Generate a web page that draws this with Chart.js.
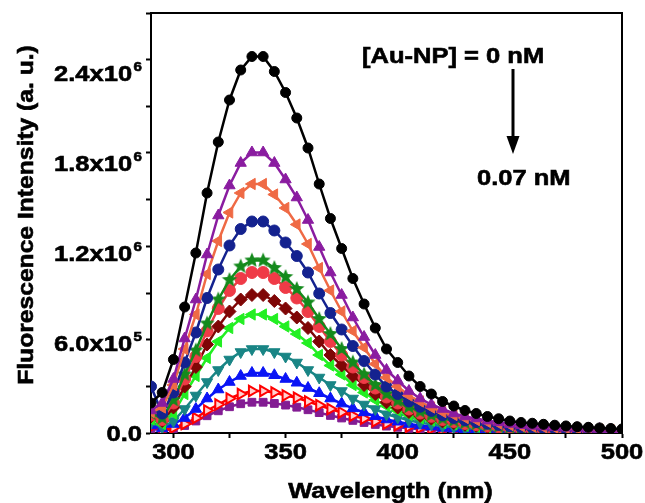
<!DOCTYPE html>
<html>
<head>
<meta charset="utf-8">
<script src="https://cdn.jsdelivr.net/npm/chart.js@4.4.1/dist/chart.umd.min.js"></script>
<style>
  html, body { margin: 0; padding: 0; background: #fff; }
</style>
</head>
<body>
<canvas id="fluoChart" width="645" height="503"></canvas>
<script>
// emission spectra, intensity in units of 10^6 (a. u.)
const wavelength = [290, 295, 300, 305, 310, 315, 320, 325, 330, 335, 340, 345, 350, 355, 360, 365, 370, 375, 380, 385, 390, 395,
    400, 405, 410, 415, 420, 425, 430, 435, 440, 445, 450, 455, 460, 465, 470, 475, 480, 485, 490, 495, 500];

const au0 = [0.20, 0.27, 0.49, 0.84, 1.20, 1.60, 1.94, 2.22, 2.42, 2.51, 2.51, 2.41, 2.27, 2.10, 1.90, 1.66, 1.43, 1.23, 1.03, 0.86, 0.70, 0.56,
    0.47, 0.38, 0.31, 0.26, 0.21, 0.18, 0.15, 0.13, 0.11, 0.095, 0.08, 0.07, 0.065, 0.058, 0.052, 0.047, 0.042, 0.038, 0.034, 0.030, 0.027];
const au1 = [0.15, 0.20, 0.36, 0.63, 0.89, 1.19, 1.45, 1.65, 1.80, 1.87, 1.87, 1.80, 1.69, 1.57, 1.42, 1.24, 1.07, 0.92, 0.77, 0.64, 0.52, 0.42,
    0.35, 0.28, 0.23, 0.19, 0.16, 0.13, 0.11, 0.097, 0.082, 0.071, 0.060, 0.052, 0.047, 0.043, 0.039, 0.035, 0.032, 0.028, 0.026, 0.022, 0.020];
const au2 = [0.14, 0.17, 0.32, 0.56, 0.79, 1.06, 1.28, 1.47, 1.60, 1.66, 1.66, 1.59, 1.50, 1.39, 1.26, 1.10, 0.95, 0.81, 0.68, 0.57, 0.46, 0.37,
    0.31, 0.25, 0.21, 0.17, 0.14, 0.12, 0.10, 0.086, 0.073, 0.063, 0.053, 0.046, 0.043, 0.038, 0.035, 0.032, 0.028, 0.025, 0.023, 0.020, 0.018];
const au3 = [0.31, 0.13, 0.27, 0.47, 0.67, 0.90, 1.09, 1.25, 1.36, 1.41, 1.41, 1.35, 1.27, 1.18, 1.07, 0.93, 0.80, 0.69, 0.58, 0.48, 0.39, 0.31,
    0.26, 0.21, 0.175, 0.147, 0.118, 0.10, 0.085, 0.073, 0.062, 0.054, 0.045, 0.039, 0.037, 0.032, 0.030, 0.027, 0.024, 0.021, 0.020, 0.017, 0.015];
const au4 = [0.13, 0.10, 0.22, 0.39, 0.55, 0.73, 0.89, 1.02, 1.11, 1.15, 1.15, 1.10, 1.04, 0.96, 0.87, 0.76, 0.66, 0.56, 0.47, 0.39, 0.32, 0.26,
    0.215, 0.174, 0.143, 0.12, 0.097, 0.083, 0.069, 0.060, 0.051, 0.044, 0.037, 0.032, 0.030, 0.026, 0.024, 0.022, 0.020, 0.017, 0.016, 0.014, 0.013];
const au5 = [0.12, 0.09, 0.20, 0.36, 0.51, 0.68, 0.83, 0.95, 1.03, 1.07, 1.07, 1.03, 0.97, 0.90, 0.81, 0.71, 0.61, 0.52, 0.44, 0.37, 0.30, 0.24,
    0.20, 0.16, 0.133, 0.111, 0.090, 0.077, 0.064, 0.056, 0.047, 0.041, 0.034, 0.030, 0.028, 0.025, 0.022, 0.020, 0.018, 0.016, 0.015, 0.013, 0.012];
const au6 = [0.11, 0.08, 0.17, 0.31, 0.44, 0.59, 0.71, 0.81, 0.89, 0.92, 0.92, 0.88, 0.83, 0.77, 0.70, 0.61, 0.52, 0.45, 0.38, 0.32, 0.26, 0.205,
    0.17, 0.14, 0.114, 0.096, 0.077, 0.066, 0.055, 0.048, 0.040, 0.035, 0.029, 0.026, 0.024, 0.021, 0.019, 0.017, 0.016, 0.014, 0.013, 0.011, 0.010];
const au7 = [0.09, 0.06, 0.13, 0.26, 0.38, 0.50, 0.61, 0.70, 0.76, 0.79, 0.79, 0.76, 0.71, 0.66, 0.60, 0.52, 0.45, 0.39, 0.32, 0.27, 0.22, 0.18,
    0.148, 0.12, 0.098, 0.082, 0.066, 0.057, 0.047, 0.041, 0.035, 0.030, 0.025, 0.022, 0.021, 0.018, 0.017, 0.015, 0.013, 0.012, 0.011, 0.010, 0.009];
const au8 = [0.07, 0.04, 0.08, 0.16, 0.25, 0.34, 0.42, 0.49, 0.54, 0.56, 0.56, 0.54, 0.51, 0.47, 0.42, 0.37, 0.32, 0.28, 0.23, 0.19, 0.16, 0.125,
    0.105, 0.085, 0.069, 0.058, 0.047, 0.040, 0.034, 0.029, 0.025, 0.021, 0.018, 0.016, 0.015, 0.013, 0.012, 0.011, 0.010, 0.008, 0.008, 0.007, 0.006];
const au9 = [0.05, 0.03, 0.06, 0.10, 0.16, 0.23, 0.29, 0.34, 0.38, 0.40, 0.40, 0.385, 0.36, 0.335, 0.30, 0.265, 0.23, 0.196, 0.164, 0.137, 0.112, 0.090,
    0.075, 0.060, 0.050, 0.042, 0.034, 0.029, 0.024, 0.021, 0.018, 0.015, 0.013, 0.011, 0.010, 0.009, 0.008, 0.008, 0.007, 0.006, 0.006, 0.005, 0.004];
const au10 = [0.04, 0.02, 0.035, 0.06, 0.10, 0.15, 0.19, 0.23, 0.26, 0.28, 0.28, 0.27, 0.25, 0.235, 0.21, 0.185, 0.16, 0.137, 0.115, 0.096, 0.078, 0.063,
    0.052, 0.042, 0.035, 0.029, 0.024, 0.020, 0.017, 0.015, 0.012, 0.011, 0.009, 0.008, 0.007, 0.006, 0.006, 0.005, 0.005, 0.004, 0.004, 0.003, 0.003];
const au11 = [0.03, 0.015, 0.03, 0.05, 0.08, 0.115, 0.148, 0.175, 0.195, 0.205, 0.205, 0.197, 0.186, 0.172, 0.155, 0.136, 0.117, 0.10, 0.084, 0.070, 0.057, 0.046,
    0.038, 0.031, 0.025, 0.021, 0.017, 0.015, 0.012, 0.011, 0.009, 0.008, 0.007, 0.006, 0.005, 0.005, 0.004, 0.004, 0.003, 0.003, 0.003, 0.002, 0.002];

const xTicks = [300, 350, 400, 450, 500];
const yTicks = [0, 6e5, 1.2e6, 1.8e6, 2.4e6];
const yTickText = [["0.0", ""], ["6.0x10", "5"], ["1.2x10", "6"], ["1.8x10", "6"], ["2.4x10", "6"]];

const FONT = "'Liberation Sans', Arial, sans-serif";
const WIDEN = 1.16;

// filled five-point star used as a marker
function starMarker(color, r) {
    const c = document.createElement("canvas");
    c.width = c.height = 2 * r + 2;
    const g = c.getContext("2d");
    g.translate(r + 1, r + 1);
    g.beginPath();
    for (let i = 0; i < 10; i++) {
        const rad = i % 2 === 0 ? r : r * 0.45;
        const a = -Math.PI / 2 + i * Math.PI / 5;
        g.lineTo(rad * Math.cos(a), rad * Math.sin(a));
    }
    g.closePath();
    g.fillStyle = color;
    g.fill();
    return c;
}

function series(vals, color, style, radius, opts) {
    return Object.assign({
        data: wavelength.map((w, i) => ({ x: w, y: vals[i] * 1e6 })),
        borderColor: color,
        backgroundColor: color,
        pointBackgroundColor: color,
        pointBorderColor: color,
        pointBorderWidth: 1,
        borderWidth: 2.5,
        pointStyle: style,
        pointRadius: radius,
        pointHoverRadius: radius,
        tension: 0
    }, opts || {});
}

const datasets = [
    series(au0, "#000000", "circle", 5),
    series(au1, "#8a1ca0", "triangle", 6.5),
    series(au2, "#ef6a45", "triangle", 6.5, { pointRotation: -90 }),
    series(au3, "#14228f", "circle", 5.5),
    series(au4, "#148a1c", starMarker("#148a1c", 8), 8),
    series(au5, "#ef3b47", "circle", 6),
    series(au6, "#7f0606", "rectRot", 6.5),
    series(au7, "#22ef22", "triangle", 6.5, { pointRotation: -90 }),
    series(au8, "#198585", "triangle", 6.5, { pointRotation: 180 }),
    series(au9, "#0a14f5", "triangle", 6.5),
    series(au10, "#ff0000", "triangle", 6, { pointRotation: 90, pointBackgroundColor: "#ffd0d0", pointBorderWidth: 2 }),
    series(au11, "#831c93", "rect", 5.5)
];

function drawText(ctx, text, x, y, size, align) {
    ctx.save();
    ctx.font = "bold " + size + "px " + FONT;
    const w = ctx.measureText(text).width * WIDEN;
    let x0 = x;
    if (align === "center") x0 = x - w / 2;
    if (align === "right") x0 = x - w;
    ctx.translate(x0, y);
    ctx.scale(WIDEN, 1);
    ctx.textAlign = "left";
    ctx.textBaseline = "alphabetic";
    ctx.fillStyle = "#000";
    ctx.strokeStyle = "#000";
    ctx.lineWidth = 0.6;
    ctx.fillText(text, 0, 0);
    ctx.strokeText(text, 0, 0);
    ctx.restore();
    return w;
}

// frame, tick labels, titles and the concentration arrow
const decorations = {
    id: "decorations",
    afterDraw(chart) {
        const ctx = chart.ctx;
        const a = chart.chartArea;
        const xs = chart.scales.x;
        const ys = chart.scales.y;

        ctx.save();
        ctx.strokeStyle = "#000";
        ctx.lineWidth = 2;
        ctx.beginPath();
        ctx.moveTo(a.left, a.top);
        ctx.lineTo(a.right, a.top);
        ctx.lineTo(a.right, a.bottom);
        ctx.stroke();
        ctx.restore();

        xTicks.forEach(v => drawText(ctx, String(v), xs.getPixelForValue(v), 459, 22, "center"));

        yTicks.forEach((v, i) => {
            const py = ys.getPixelForValue(v);
            const [base, sup] = yTickText[i];
            ctx.font = "bold 13px " + FONT;
            const supW = sup ? ctx.measureText(sup).width * WIDEN + 1.5 : 0;
            const right = 142;
            drawText(ctx, base, right - supW, py + 8, 22, "right");
            if (sup) drawText(ctx, sup, right - supW + 1.5, py - 2, 13, "left");
        });

        drawText(ctx, "Wavelength (nm)", (a.left + a.right) / 2 + 4, 498, 22, "center");

        ctx.save();
        ctx.translate(33, 215);
        ctx.rotate(-Math.PI / 2);
        ctx.font = "bold 22px " + FONT;
        const tw = ctx.measureText("Fluorescence Intensity (a. u.)").width * 1.12;
        ctx.scale(1.12, 1);
        ctx.fillStyle = "#000";
        ctx.strokeStyle = "#000";
        ctx.lineWidth = 0.6;
        ctx.fillText("Fluorescence Intensity (a. u.)", -tw / 2 / 1.12, 0);
        ctx.strokeText("Fluorescence Intensity (a. u.)", -tw / 2 / 1.12, 0);
        ctx.restore();

        drawText(ctx, "[Au-NP] = 0 nM", 362, 63, 22, "left");
        drawText(ctx, "0.07 nM", 477, 185, 22, "left");

        ctx.save();
        ctx.strokeStyle = "#000";
        ctx.fillStyle = "#000";
        ctx.lineWidth = 3;
        ctx.beginPath();
        ctx.moveTo(513, 69);
        ctx.lineTo(513, 140);
        ctx.stroke();
        ctx.beginPath();
        ctx.moveTo(506.5, 136);
        ctx.lineTo(519.5, 136);
        ctx.lineTo(513, 154);
        ctx.closePath();
        ctx.fill();
        ctx.restore();
    }
};

new Chart(document.getElementById("fluoChart").getContext("2d"), {
    type: "line",
    data: { datasets: datasets },
    plugins: [decorations],
    options: {
        responsive: false,
        animation: false,
        events: [],
        layout: { padding: { left: 145, right: 23, top: 13, bottom: 64 } },
        plugins: { legend: { display: false }, tooltip: { enabled: false } },
        scales: {
            x: {
                type: "linear",
                min: 290,
                max: 500,
                afterFit: s => { s.height = 6; },
                border: { display: true, color: "#000", width: 2 },
                grid: { drawOnChartArea: false, drawTicks: true, tickLength: 5, tickWidth: 2, tickColor: "#000" },
                ticks: { display: false, stepSize: 25, includeBounds: false }
            },
            y: {
                min: 0,
                max: 2.8e6,
                afterFit: s => { s.width = 6; },
                border: { display: true, color: "#000", width: 2 },
                grid: { drawOnChartArea: false, drawTicks: true, tickLength: 5, tickWidth: 2, tickColor: "#000" },
                ticks: { display: false, stepSize: 3e5, includeBounds: false }
            }
        }
    }
});
</script>
</body>
</html>
